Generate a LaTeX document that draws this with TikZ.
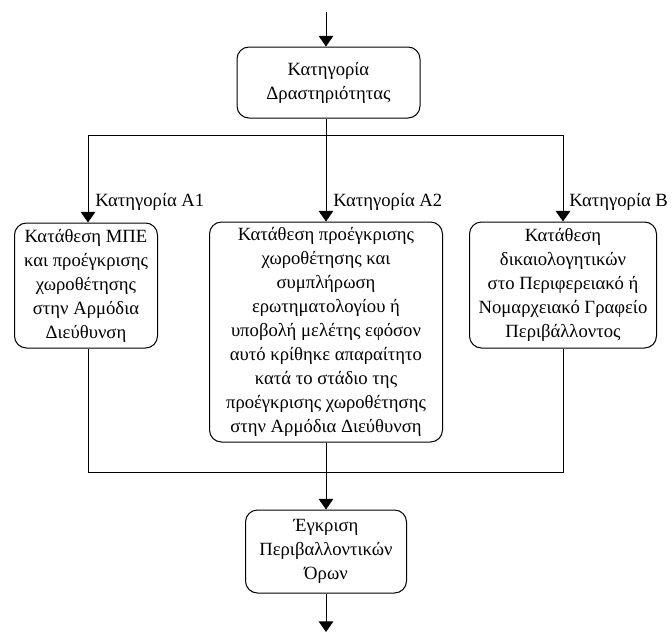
\documentclass[tikz,border=0pt]{standalone}
\usepackage{fontspec}
\setmainfont{Liberation Serif}
\usetikzlibrary{arrows.meta}
\begin{document}
\begin{tikzpicture}[x=0.75pt,y=-0.75pt,
  every node/.style={font=\fontsize{14}{18}\selectfont},
  box/.style={draw,line width=0.75pt,rounded corners=9pt,align=center,inner sep=0pt},
  lbl/.style={anchor=west,inner sep=0pt},
  conn/.style={line width=0.75pt},
  arr/.style={conn,-{Triangle[width=11pt,length=8pt]}}]
\useasboundingbox (0,0) rectangle (672,632);
\coordinate (top) at (326,12);
\coordinate (bot) at (326,632);
\node[box,minimum width=183*0.75pt,minimum height=71*0.75pt] (A) at (328.5,82.5) {Κατηγορία\\Δραστηριότητας};
\node[box,minimum width=143*0.75pt,minimum height=125*0.75pt] (L) at (86,285.5) {Κατάθεση ΜΠΕ\\και προέγκρισης\\χωροθέτησης\\στην Αρμόδια\\Διεύθυνση};
\node[box,minimum width=233*0.75pt,minimum height=220*0.75pt] (M) at (326,332) {Κατάθεση προέγκρισης\\χωροθέτησης και\\συμπλήρωση\\ερωτηματολογίου ή\\υποβολή μελέτης εφόσον\\αυτό κρίθηκε απαραίτητο\\κατά το στάδιο της\\προέγκρισης χωροθέτησης\\στην Αρμόδια Διεύθυνση};
\node[box,minimum width=187*0.75pt,minimum height=126*0.75pt] (R) at (563,285) {Κατάθεση\\δικαιολογητικών\\στο Περιφερειακό ή\\Νομαρχειακό Γραφείο\\Περιβάλλοντος};
\node[box,minimum width=161*0.75pt,minimum height=83*0.75pt] (E) at (326,551.5) {Έγκριση\\Περιβαλλοντικών\\Όρων};
\coordinate (s1) at (88,135);
\coordinate (s2) at (326,135);
\coordinate (s3) at (563,135);
\coordinate (j1) at (88,472);
\coordinate (j2) at (326,472);
\coordinate (j3) at (563,472);
\draw[arr] (top) -- (A.north -| top);
\draw[arr] (A.south -| s2) -- (M.north -| s2);
\draw[conn] (s1) -- (s3);
\draw[arr] (s1) -- (L.north -| s1);
\draw[arr] (s3) -- (R.north -| s3);
\node[lbl] (la) at (95,202) {Κατηγορία Α1};
\node[lbl] (lb) at (333,202) {Κατηγορία Α2};
\node[lbl] (lc) at (569,202) {Κατηγορία Β};
\draw[conn] (L.south -| j1) -- (j1) -- (j3) -- (R.south -| j3);
\draw[arr] (M.south -| j2) -- (E.north -| j2);
\draw[arr] (E.south -| bot) -- (bot);
\end{tikzpicture}
\end{document}
